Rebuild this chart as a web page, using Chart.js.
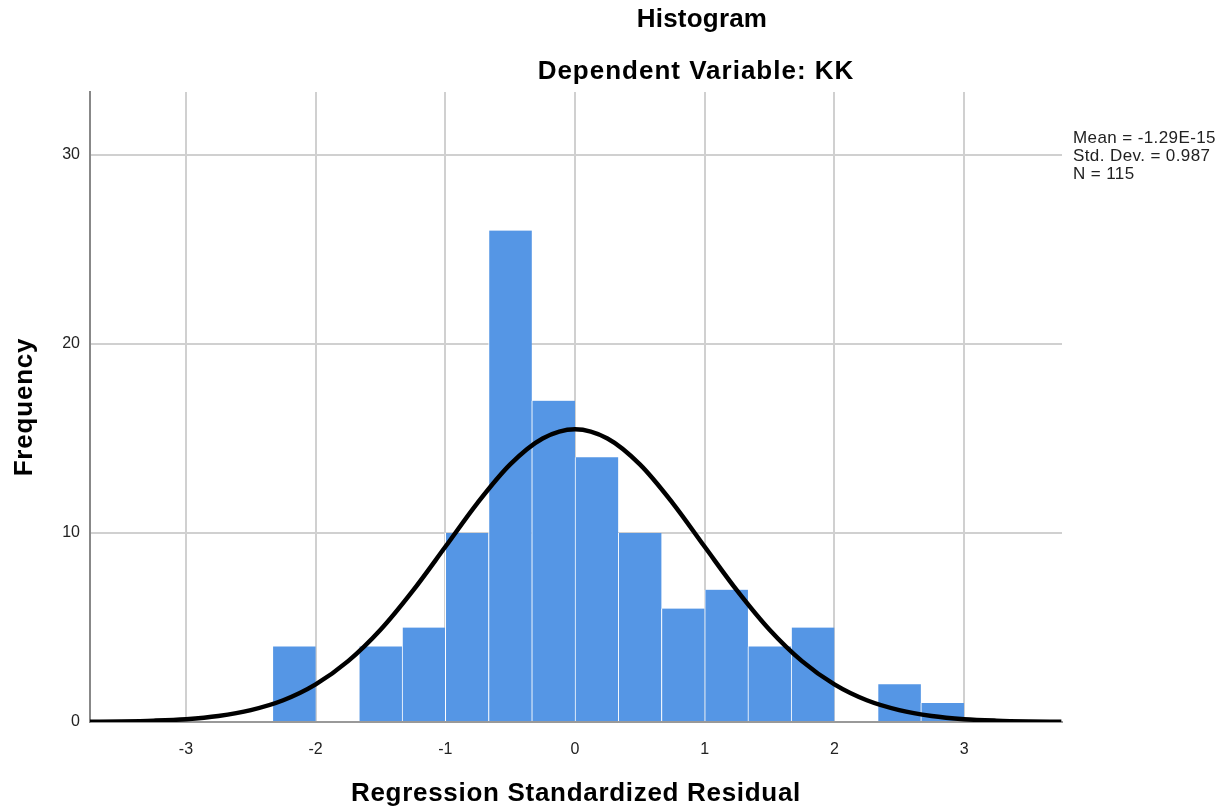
<!DOCTYPE html>
<html>
<head>
<meta charset="utf-8">
<script src="https://cdn.jsdelivr.net/npm/chart.js@4.4.1/dist/chart.umd.min.js"></script>
<style>
html,body{margin:0;padding:0;background:#fff;}
#wrap{width:1230px;height:811px;position:relative;}
</style>
</head>
<body>
<div id="wrap"><canvas id="c" width="1230" height="811"></canvas></div>
<script>
// Histogram bins (centers, width 1/3) and frequencies
const binCenters = [-2.1667, -1.8333, -1.5, -1.1667, -0.8333, -0.5, -0.1667, 0.1667, 0.5, 0.8333, 1.1667, 1.5, 1.8333, 2.1667, 2.5, 2.8333];
const frequencies = [4, 0, 4, 5, 10, 26, 17, 14, 10, 6, 7, 4, 5, 0, 2, 1];
// Normal curve
const curveX = [-3.75, -3.5, -3.25, -3, -2.75, -2.5, -2.25, -2, -1.75, -1.5, -1.25, -1, -0.75, -0.5, -0.25, 0, 0.25, 0.5, 0.75, 1, 1.25, 1.5, 1.75, 2, 2.25, 2.5, 2.75, 3, 3.25, 3.5, 3.75];
const curveY = [0.01, 0.03, 0.07, 0.15, 0.32, 0.63, 1.15, 1.99, 3.22, 4.88, 6.95, 9.27, 11.61, 13.63, 15.0, 15.49, 15.0, 13.63, 11.61, 9.27, 6.95, 4.88, 3.22, 1.99, 1.15, 0.63, 0.32, 0.15, 0.07, 0.03, 0.01];
const xTicks = [-3, -2, -1, 0, 1, 2, 3];
const yTicks = [0, 10, 20, 30];
const titleText = "Histogram";
const subtitleText = "Dependent Variable: KK";
const xTitle = "Regression Standardized Residual";
const yTitle = "Frequency";
const statsLines = ["Mean = -1.29E-15", "Std. Dev. = 0.987", "N = 115"];

const textPlugin = {
  id: 'texts',
  afterDraw(chart) {
    const ctx = chart.ctx;
    ctx.save();
    ctx.fillStyle = '#000';
    ctx.textBaseline = 'middle';
    ctx.textAlign = 'center';
    ctx.font = 'bold 26px "Liberation Sans", Arial, sans-serif';
    ctx.letterSpacing = '0.2px';
    ctx.fillText(titleText, 702, 20);
    ctx.letterSpacing = '1px';
    ctx.fillText(subtitleText, 696, 72);
    ctx.letterSpacing = '0.7px';
    ctx.fillText(xTitle, 576, 794);
    ctx.save();
    ctx.translate(25, 407);
    ctx.rotate(-Math.PI / 2);
    ctx.letterSpacing = '0.8px';
    ctx.fillText(yTitle, 0, 0);
    ctx.restore();
    ctx.textAlign = 'left';
    ctx.font = '17px "Liberation Sans", Arial, sans-serif';
    ctx.letterSpacing = '0.4px';
    ctx.fillStyle = '#222';
    statsLines.forEach((s, i) => ctx.fillText(s, 1073, 138 + i * 18));
    ctx.restore();
  }
};

new Chart(document.getElementById('c'), {
  data: {
    datasets: [
      {
        type: 'line',
        data: curveX.map((x, i) => ({x: x, y: curveY[i]})),
        borderColor: '#000',
        borderWidth: 4.5,
        pointRadius: 0,
        cubicInterpolationMode: 'monotone',
        fill: false,
        order: 0
      },
      {
        type: 'bar',
        data: binCenters.map((x, i) => ({x: x, y: frequencies[i]})),
        backgroundColor: '#5596e5',
        borderColor: '#ffffff',
        borderWidth: {left: 1, right: 0, top: 0, bottom: 0},
        borderSkipped: false,
        barPercentage: 1.0,
        categoryPercentage: 1.0,
        order: 1
      }
    ]
  },
  options: {
    responsive: false,
    animation: false,
    events: [],
    layout: {padding: {left: 0, right: 168, top: 92, bottom: 0}},
    plugins: {legend: {display: false}, tooltip: {enabled: false}, title: {display: false}},
    scales: {
      x: {
        type: 'linear',
        offset: false,
        min: -3.74,
        max: 3.755,
        afterBuildTicks: (s) => { s.ticks = xTicks.map(v => ({value: v})); },
        afterFit: (s) => { s.height = 89; },
        grid: {color: '#d0d0d0', lineWidth: 2, drawTicks: false, offset: false},
        border: {color: '#999', width: 2},
        ticks: {padding: 18, color: '#222', font: {family: '"Liberation Sans", Arial, sans-serif', size: 16}, maxRotation: 0}
      },
      y: {
        type: 'linear',
        min: 0,
        max: 33.33,
        afterBuildTicks: (s) => { s.ticks = yTicks.map(v => ({value: v})); },
        afterFit: (s) => { s.width = 90; },
        grid: {color: '#d0d0d0', lineWidth: 2, drawTicks: false},
        border: {color: '#888', width: 2},
        ticks: {padding: 10, color: '#222', font: {family: '"Liberation Sans", Arial, sans-serif', size: 16}}
      }
    }
  },
  plugins: [textPlugin]
});
</script>
</body>
</html>
